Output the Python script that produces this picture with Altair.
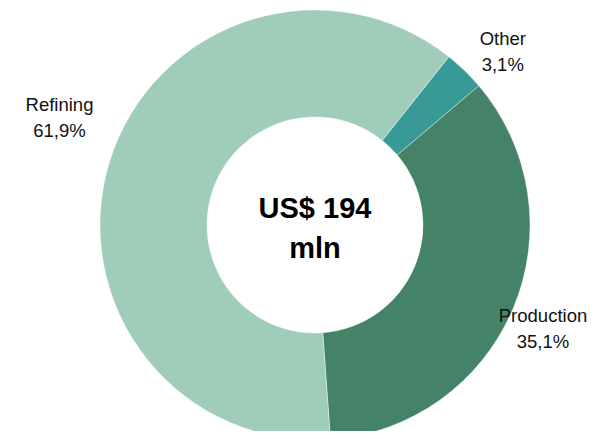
import math
import altair as alt
import pandas as pd

categories = ["Other", "Production", "Refining"]
shares = [3.1, 35.1, 61.9]
colors = ["#389a97", "#448367", "#a0cdb9"]
center_lines = ["US$ 194", "mln"]

df = pd.DataFrame({
    "category": categories,
    "share": shares,
    "order": list(range(len(categories))),
})
df["label"] = [f"{c}\n{str(f'{v:.1f}').replace('.', ',')}%" for c, v in zip(categories, shares)]

start = math.radians(38.5)
theta_scale = alt.Scale(range=[start, start + 2 * math.pi])

W, H = 581, 423
cx, cy = 307, 217
FONT = "Liberation Sans"

base = alt.Chart(df).encode(
    theta=alt.Theta("share:Q", stack=True, scale=theta_scale),
    order=alt.Order("order:Q"),
    x=alt.value(cx),
    y=alt.value(cy),
)

arcs = base.mark_arc(radius=215, radius2=108, stroke="white", strokeWidth=0.4).encode(
    color=alt.Color("category:N", scale=alt.Scale(domain=categories, range=colors), legend=None),
)

text_style = dict(lineBreak="\n", font=FONT, fontSize=18.5, lineHeight=26,
                  color="#111111", align="center", baseline="middle")

# per-label nudges (dx, dy) so labels sit where the reference puts them
nudges = {"Other": (9, -1), "Production": (-9, -8), "Refining": (-10, -44)}

label_layers = []
for cat, (ddx, ddy) in nudges.items():
    label_layers.append(
        base.mark_text(radius=257, dx=ddx, dy=ddy, **text_style).encode(
            text=alt.condition(alt.datum.category == cat, alt.Text("label:N"), alt.value(""))
        )
    )

center = alt.Chart(pd.DataFrame({"t": ["\n".join(center_lines)]})).mark_text(
    lineBreak="\n", font=FONT, fontSize=29, fontWeight="bold", dy=-16,
    lineHeight=40, color="#000000", align="center", baseline="middle",
).encode(text="t:N", x=alt.value(cx), y=alt.value(cy))

chart = alt.layer(arcs, *label_layers, center).properties(
    width=W, height=H, padding=0, autosize="none",
).configure_view(stroke=None)

chart.save("out.html", embed_options={"renderer": "svg", "actions": False})
